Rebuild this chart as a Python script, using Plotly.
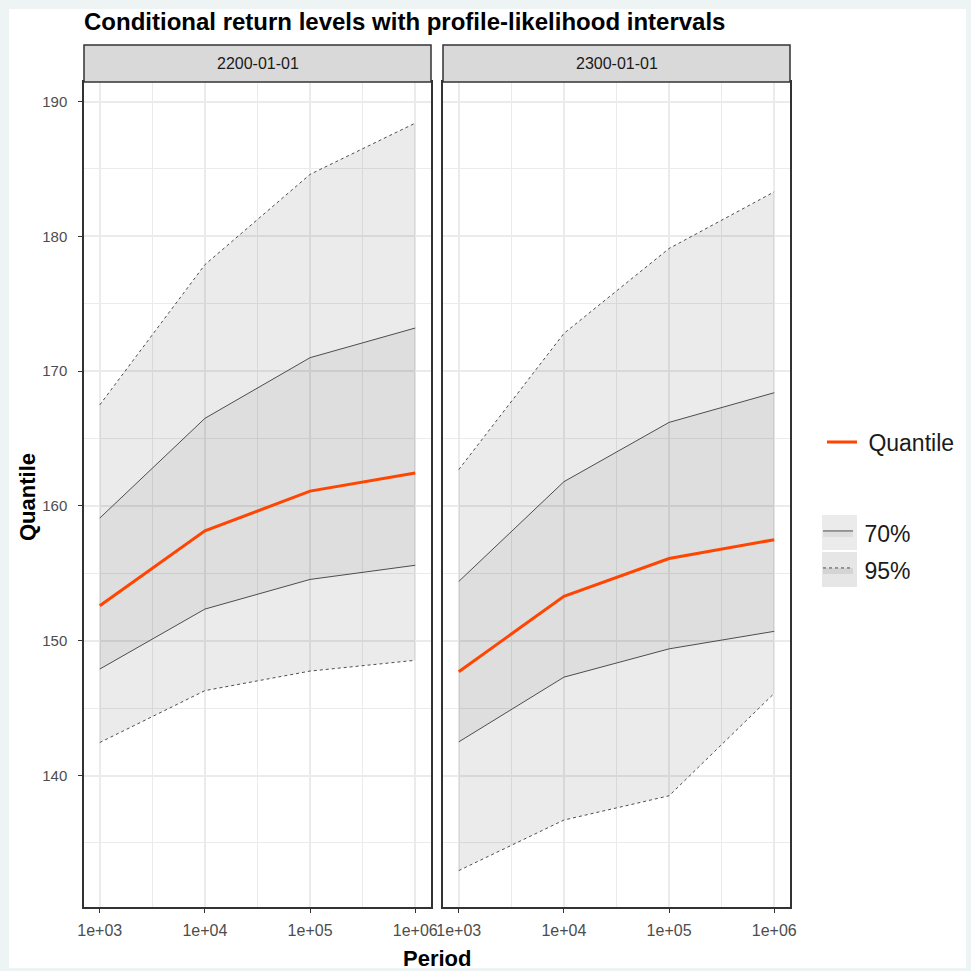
import plotly.graph_objects as go
from plotly.subplots import make_subplots

# ---------------- data ----------------
periods = [1e3, 1e4, 1e5, 1e6]
tick_labels = ["1e+03", "1e+04", "1e+05", "1e+06"]
panels = ["2200-01-01", "2300-01-01"]

quantile_2200 = [152.6, 158.15, 161.1, 162.45]
lo70_2200 = [147.9, 152.35, 154.55, 155.6]
hi70_2200 = [159.1, 166.5, 171.0, 173.2]
lo95_2200 = [142.45, 146.3, 147.75, 148.55]
hi95_2200 = [167.5, 177.9, 184.6, 188.4]

quantile_2300 = [147.7, 153.3, 156.1, 157.5]
lo70_2300 = [142.5, 147.3, 149.4, 150.7]
hi70_2300 = [154.4, 161.8, 166.2, 168.4]
lo95_2300 = [132.95, 136.7, 138.5, 146.1]
hi95_2300 = [162.7, 172.8, 179.1, 183.3]

y_ticks = [140, 150, 160, 170, 180, 190]
y_minor = [135, 145, 155, 165, 175, 185]
x_minor = [10 ** 3.5, 10 ** 4.5, 10 ** 5.5]

series = {
    "2200-01-01": (quantile_2200, lo70_2200, hi70_2200, lo95_2200, hi95_2200),
    "2300-01-01": (quantile_2300, lo70_2300, hi70_2300, lo95_2300, hi95_2300),
}

# ---------------- styling ----------------
W = H = 971
FONT = "Liberation Sans, Arial, sans-serif"
ORANGE = "#FF4500"
LINE_GREY = "#4D4D4D"
FILL95 = "rgba(0,0,0,0.08)"
FILL70 = "rgba(0,0,0,0.055)"
GRID = "#EBEBEB"
BORDER = "#333333"

def px_x(p):
    return p / W

def px_y(p):
    return 1 - p / H

fig = make_subplots(rows=1, cols=2, shared_yaxes=True)

for i, name in enumerate(panels, start=1):
    q, lo70, hi70, lo95, hi95 = series[name]
    first = i == 1
    fig.add_trace(go.Scatter(x=periods, y=lo95, mode="lines",
                             line=dict(color=LINE_GREY, width=1, dash="3px,3px"),
                             showlegend=False, hoverinfo="skip"), row=1, col=i)
    fig.add_trace(go.Scatter(x=periods, y=hi95, mode="lines", fill="tonexty",
                             fillcolor=FILL95,
                             line=dict(color=LINE_GREY, width=1, dash="3px,3px"),
                             name=" 95%", legend="legend3", showlegend=first,
                             hoverinfo="skip"), row=1, col=i)
    fig.add_trace(go.Scatter(x=periods, y=lo70, mode="lines",
                             line=dict(color=LINE_GREY, width=1),
                             showlegend=False, hoverinfo="skip"), row=1, col=i)
    fig.add_trace(go.Scatter(x=periods, y=hi70, mode="lines", fill="tonexty",
                             fillcolor=FILL70,
                             line=dict(color=LINE_GREY, width=1),
                             name=" 70%", legend="legend2", showlegend=first,
                             hoverinfo="skip"), row=1, col=i)
    fig.add_trace(go.Scatter(x=periods, y=q, mode="lines",
                             line=dict(color=ORANGE, width=3),
                             name=" Quantile", legend="legend", showlegend=first),
                  row=1, col=i)

x_domains = [[px_x(84), px_x(431)], [px_x(443), px_x(790)]]
y_domain = [px_y(907), px_y(82)]

for i in (1, 2):
    fig.update_xaxes(
        type="log", range=[2.85, 6.15], domain=x_domains[i - 1],
        tickvals=periods, ticktext=tick_labels,
        tickfont=dict(family=FONT, size=16, color="#4D4D4D"),
        ticks="outside", ticklen=4, tickcolor=BORDER, tickwidth=1,
        ticklabelstandoff=4,
        showgrid=True, gridcolor=GRID, gridwidth=1.5,
        minor=dict(tickvals=x_minor, showgrid=True, gridcolor=GRID, gridwidth=1, ticks=""),
        showline=True, mirror=True, linecolor=BORDER, linewidth=1.5,
        zeroline=False, automargin=False, row=1, col=i)
    fig.update_yaxes(
        range=[130.25, 191.45], domain=y_domain,
        tickvals=y_ticks,
        tickfont=dict(family=FONT, size=15, color="#4D4D4D"),
        ticks="outside" if i == 1 else "", ticklen=4, tickcolor=BORDER, tickwidth=1,
        ticklabelstandoff=8,
        showticklabels=(i == 1),
        showgrid=True, gridcolor=GRID, gridwidth=1.5,
        minor=dict(tickvals=y_minor, showgrid=True, gridcolor=GRID, gridwidth=1, ticks=""),
        showline=True, mirror=True, linecolor=BORDER, linewidth=1.5,
        zeroline=False, automargin=False, row=1, col=i)

shapes = [
    dict(type="rect", xref="paper", yref="paper", layer="below",
         x0=px_x(9), x1=px_x(966), y0=px_y(968), y1=px_y(9),
         fillcolor="white", line=dict(width=0)),
    # legend key backgrounds
    dict(type="rect", xref="paper", yref="paper", layer="below",
         x0=px_x(822), x1=px_x(857), y0=px_y(550), y1=px_y(515),
         fillcolor="#EBEBEB", line=dict(width=0)),
    dict(type="rect", xref="paper", yref="paper", layer="below",
         x0=px_x(822), x1=px_x(857), y0=px_y(587), y1=px_y(552),
         fillcolor="#E6E6E6", line=dict(width=0)),
]
annotations = []
for i, name in enumerate(panels):
    x0, x1 = x_domains[i]
    shapes.append(dict(type="rect", xref="paper", yref="paper",
                       x0=x0, x1=x1, y0=px_y(82), y1=px_y(45),
                       fillcolor="#D9D9D9", line=dict(color=BORDER, width=1.5)))
    annotations.append(dict(text=name, xref="paper", yref="paper",
                            x=(x0 + x1) / 2, y=px_y(63.5), showarrow=False,
                            xanchor="center", yanchor="middle",
                            font=dict(family=FONT, size=16, color="#1A1A1A")))

annotations.append(dict(text="<b>Period</b>", xref="paper", yref="paper",
                        x=px_x(437), y=px_y(958), showarrow=False,
                        xanchor="center", yanchor="middle",
                        font=dict(family=FONT, size=22, color="black")))
annotations.append(dict(text="<b>Quantile</b>", xref="paper", yref="paper",
                        x=px_x(27), y=px_y(497), showarrow=False, textangle=-90,
                        xanchor="center", yanchor="middle",
                        font=dict(family=FONT, size=22, color="black")))

legend_common = dict(bgcolor="rgba(0,0,0,0)", borderwidth=0,
                     font=dict(family=FONT, size=23, color="#1A1A1A"),
                     xanchor="left", yanchor="middle", itemwidth=30)

fig.update_layout(
    width=W, height=H,
    margin=dict(l=0, r=0, t=0, b=0),
    paper_bgcolor="#EEF4F4", plot_bgcolor="white",
    title=dict(text="<b>Conditional return levels with profile-likelihood intervals</b>",
               x=px_x(84), xanchor="left", y=px_y(22), yanchor="middle",
               font=dict(family=FONT, size=24, color="black")),
    shapes=shapes, annotations=annotations,
    legend=dict(x=px_x(822), y=px_y(442), **legend_common),
    legend2=dict(x=px_x(818), y=px_y(533), **legend_common),
    legend3=dict(x=px_x(818), y=px_y(570), **legend_common),
)

fig.write_html("out.html", config={"displayModeBar": False},
               post_script="document.body.style.margin='0';document.body.style.overflow='hidden';")
